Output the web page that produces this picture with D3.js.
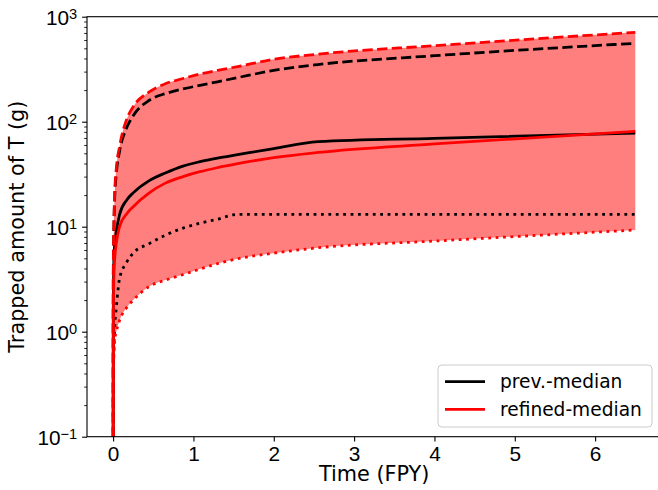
<!DOCTYPE html>
<html>
<head>
<meta charset="utf-8">
<script src="https://cdn.jsdelivr.net/npm/d3@7"></script>
<style>
  html, body { margin: 0; padding: 0; background: #fff; }
  svg { display: block; font-family: "DejaVu Sans", sans-serif; }
</style>
</head>
<body>
<svg id="chart" width="658" height="490"></svg>
<script>
// time axis (FPY) shared by every series
const timeFPY = [0, 0.002, 0.01, 0.02, 0.04, 0.08, 0.17, 0.25, 0.45, 0.65, 0.87, 1.08, 1.3, 1.55, 2.0, 2.55, 4.0, 6.5];

// trapped T (g)
const prevUpper     = [0.02, 3, 10, 19, 32, 52, 88, 114, 160, 185, 205, 222, 240, 263, 308, 350, 425, 558];
const prevMedian    = [0.01, 1.5, 5, 6.8, 9, 13, 18, 21, 27.5, 32.5, 37.8, 41.6, 45, 48.5, 55.5, 64.6, 69.5, 78];
const prevLower     = [0.01, 0.3, 0.7, 1.1, 1.7, 3.2, 4.6, 5.6, 6.9, 8.3, 9.7, 10.8, 11.8, 13.1, 13.1, 13.1, 13.1, 13.1];
const refinedUpper  = [0.02, 3.5, 11, 21, 36, 58, 106, 139, 192, 230, 258, 284, 308, 335, 393, 440, 530, 710];
const refinedMedian = [0.01, 1, 3.5, 5, 7, 10, 13.3, 15.5, 21, 26, 30, 33.4, 36.5, 39.8, 45.5, 51, 61.5, 81];
const refinedLower  = [0.005, 0.4, 0.6, 0.83, 1.0, 1.28, 1.7, 2.0, 2.7, 3.1, 3.5, 3.95, 4.45, 4.95, 5.6, 6.3, 7.3, 9.3];

const xTicks = [0, 1, 2, 3, 4, 5, 6];
const yTicks = [0.1, 1, 10, 100, 1000];
const yTickExp = ["\u22121", "0", "1", "2", "3"];
const legendLabels = ["prev.-median", "refined-median"];

const svg = d3.select("#chart");

const plotLeft = 87, plotTop = 16.7, plotBottom = 436.7, plotRight = 661.4;

const x = d3.scaleLinear().domain([-0.325, 6.825]).range([plotLeft, plotRight]);
const y = d3.scaleLog().domain([0.1, 1000]).range([plotBottom, plotTop]);

svg.append("defs").append("clipPath").attr("id", "plotClip")
  .append("rect")
  .attr("x", plotLeft).attr("y", plotTop)
  .attr("width", plotRight - plotLeft).attr("height", plotBottom - plotTop);

const plot = svg.append("g").attr("clip-path", "url(#plotClip)");

// shaded band between refined bounds
const band = timeFPY.map((t, i) => ({ t: t, lo: refinedLower[i], hi: refinedUpper[i] }));
plot.append("path")
  .datum(band)
  .attr("fill", "#ff0000")
  .attr("fill-opacity", 0.5)
  .attr("d", d3.area()
    .curve(d3.curveMonotoneX)
    .x(d => x(d.t))
    .y0(d => y(d.lo))
    .y1(d => y(d.hi)));

const line = d3.line()
  .curve(d3.curveMonotoneX)
  .x(d => x(d[0]))
  .y(d => y(d[1]));

const series = [
  { values: prevUpper, color: "#000000", dash: "10.3,4.4" },
  { values: prevMedian, color: "#000000", dash: null },
  { values: prevLower, color: "#000000", dash: "2.8,4.6" },
  { values: refinedUpper, color: "#ff0000", dash: "10.3,4.4" },
  { values: refinedMedian, color: "#ff0000", dash: null },
  { values: refinedLower, color: "#ff0000", dash: "2.8,4.6" }
];

series.forEach(s => {
  plot.append("path")
    .datum(timeFPY.map((t, i) => [t, s.values[i]]))
    .attr("fill", "none")
    .attr("stroke", s.color)
    .attr("stroke-width", 2.78)
    .attr("stroke-dasharray", s.dash)
    .attr("d", line);
});

// x axis
const xAxis = svg.append("g")
  .attr("transform", `translate(0,${plotBottom})`)
  .call(d3.axisBottom(x).tickValues(xTicks).tickSize(4.9).tickPadding(4.9).tickFormat(d3.format("d")));
xAxis.select(".domain").remove();
xAxis.selectAll(".tick line").attr("stroke-width", 1.1);
xAxis.selectAll(".tick text").attr("font-size", "20.8px").attr("fill", "#000");

// y minor ticks
const minor = [];
for (let e = -1; e < 3; e++) {
  for (let m = 2; m <= 9; m++) minor.push(m * Math.pow(10, e));
}
const yMinor = svg.append("g")
  .attr("transform", `translate(${plotLeft},0)`)
  .call(d3.axisLeft(y).tickValues(minor).tickSize(2.8).tickFormat(""));
yMinor.select(".domain").remove();
yMinor.selectAll(".tick line").attr("stroke-width", 0.85);

// y major ticks with 10^n labels
const yAxis = svg.append("g")
  .attr("transform", `translate(${plotLeft},0)`)
  .call(d3.axisLeft(y).tickValues(yTicks).tickSize(4.9).tickPadding(4.9).tickFormat(""));
yAxis.select(".domain").remove();
yAxis.selectAll(".tick line").attr("stroke-width", 1.1);
yAxis.selectAll(".tick text")
  .attr("font-size", "20.8px")
  .attr("fill", "#000")
  .attr("dy", "0.36em")
  .each(function (d, i) {
    const t = d3.select(this);
    t.append("tspan").text("10");
    t.append("tspan").attr("dy", "-0.42em").attr("font-size", "14.6px").text(yTickExp[i]);
  });

// frame
svg.append("rect")
  .attr("x", plotLeft).attr("y", plotTop)
  .attr("width", plotRight - plotLeft).attr("height", plotBottom - plotTop)
  .attr("fill", "none")
  .attr("stroke", "#000")
  .attr("stroke-width", 1.1);

// axis labels
svg.append("text")
  .attr("x", (plotLeft + plotRight) / 2)
  .attr("y", 481)
  .attr("text-anchor", "middle")
  .attr("font-size", "20.8px")
  .text("Time (FPY)");

svg.append("text")
  .attr("transform", `translate(24,${(plotTop + plotBottom) / 2}) rotate(-90)`)
  .attr("text-anchor", "middle")
  .attr("font-size", "20.8px")
  .text("Trapped amount of T (g)");

// legend
const legend = svg.append("g");
legend.append("rect")
  .attr("x", 438).attr("y", 365)
  .attr("width", 214).attr("height", 62)
  .attr("rx", 4)
  .attr("fill", "#fff").attr("fill-opacity", 0.8)
  .attr("stroke", "#cccccc").attr("stroke-width", 1);

const legendColors = ["#000000", "#ff0000"];
legendLabels.forEach((label, i) => {
  const ly = 381.7 + i * 27.6;
  legend.append("line")
    .attr("x1", 445).attr("x2", 485)
    .attr("y1", ly).attr("y2", ly)
    .attr("stroke", legendColors[i])
    .attr("stroke-width", 2.78);
  legend.append("text")
    .attr("x", 500).attr("y", ly)
    .attr("dy", "0.35em")
    .attr("font-size", "18.6px")
    .text(label);
});
</script>
</body>
</html>
